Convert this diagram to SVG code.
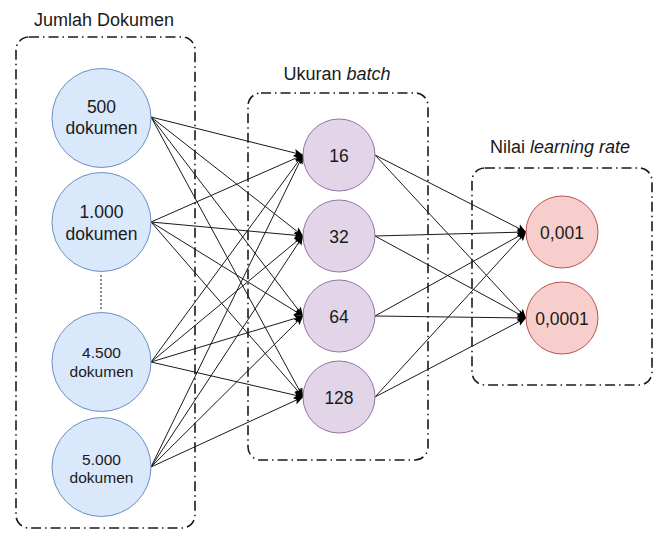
<svg xmlns="http://www.w3.org/2000/svg" width="655" height="533" viewBox="0 0 655 533">
<style>
text{font-family:"Liberation Sans",Arial,sans-serif;fill:#1a1a1a;text-anchor:middle}
.title{font-size:18px}
.big{font-size:17.5px}
.small{font-size:15.5px}
.box{fill:none;stroke:#1a1a1a;stroke-width:1.6;stroke-dasharray:10 4 1.5 4}
.blue{fill:#dae8fc;stroke:#6c8ebf;stroke-width:1}
.purple{fill:#e1d5e7;stroke:#9673a6;stroke-width:1}
.red{fill:#f8cecc;stroke:#b85450;stroke-width:1}
.edge{stroke:#1a1a1a;stroke-width:1;fill:none;marker-end:url(#arrow)}
</style>
<defs>
<marker id="arrow" markerUnits="userSpaceOnUse" markerWidth="10" markerHeight="10" viewBox="0 0 10 10" refX="9" refY="5" orient="auto">
<path d="M0,1 L9,5 L0,9 L2,5 Z" fill="#000"/>
</marker>
</defs>
<rect fill="#fff" width="655" height="533"/>
<g id="group-jumlah">
<rect class="box" x="16" y="37" width="179" height="491" rx="13"/>
<text class="title" x="104" y="26">Jumlah Dokumen</text>
</g>
<g id="group-batch">
<rect class="box" x="248" y="93" width="180" height="367" rx="13"/>
<text class="title" x="337" y="80">Ukuran <tspan font-style="italic">batch</tspan></text>
</g>
<g id="group-lr">
<rect class="box" x="472" y="168" width="180" height="217" rx="13"/>
<text class="title" x="560" y="153">Nilai <tspan font-style="italic">learning rate</tspan></text>
</g>
<g id="connectors">
<line class="edge" x1="151" y1="117" x2="303" y2="155"/>
<line class="edge" x1="151" y1="117" x2="303" y2="236"/>
<line class="edge" x1="151" y1="117" x2="303" y2="316"/>
<line class="edge" x1="151" y1="117" x2="303" y2="397"/>
<line class="edge" x1="151" y1="222" x2="303" y2="155"/>
<line class="edge" x1="151" y1="222" x2="303" y2="236"/>
<line class="edge" x1="151" y1="222" x2="303" y2="316"/>
<line class="edge" x1="151" y1="222" x2="303" y2="397"/>
<line class="edge" x1="151" y1="362" x2="303" y2="155"/>
<line class="edge" x1="151" y1="362" x2="303" y2="236"/>
<line class="edge" x1="151" y1="362" x2="303" y2="316"/>
<line class="edge" x1="151" y1="362" x2="303" y2="397"/>
<line class="edge" x1="151" y1="467" x2="303" y2="155"/>
<line class="edge" x1="151" y1="467" x2="303" y2="236"/>
<line class="edge" x1="151" y1="467" x2="303" y2="316"/>
<line class="edge" x1="151" y1="467" x2="303" y2="397"/>
<line class="edge" x1="375" y1="155" x2="526" y2="232"/>
<line class="edge" x1="375" y1="155" x2="526" y2="318"/>
<line class="edge" x1="375" y1="236" x2="526" y2="232"/>
<line class="edge" x1="375" y1="236" x2="526" y2="318"/>
<line class="edge" x1="375" y1="316" x2="526" y2="232"/>
<line class="edge" x1="375" y1="316" x2="526" y2="318"/>
<line class="edge" x1="375" y1="397" x2="526" y2="232"/>
<line class="edge" x1="375" y1="397" x2="526" y2="318"/>
<line x1="101" y1="275" x2="101" y2="309" stroke="#1a1a1a" stroke-width="1" stroke-dasharray="2 2"/>
</g>
<g id="n500">
<circle class="blue" cx="101.5" cy="118" r="49.5"/>
<text class="big" x="101.5" y="113">500</text>
<text class="big" x="101.5" y="134">dokumen</text>
</g>
<g id="n1000">
<circle class="blue" cx="101.5" cy="222" r="49.5"/>
<text class="big" x="101.5" y="218">1.000</text>
<text class="big" x="101.5" y="240">dokumen</text>
</g>
<g id="n4500">
<circle class="blue" cx="101.5" cy="362" r="49.5"/>
<text class="small" x="101.5" y="358">4.500</text>
<text class="small" x="101.5" y="377">dokumen</text>
</g>
<g id="n5000">
<circle class="blue" cx="101.5" cy="467" r="49.5"/>
<text class="small" x="101.5" y="465">5.000</text>
<text class="small" x="101.5" y="483">dokumen</text>
</g>
<g id="b16">
<circle class="purple" cx="339" cy="155" r="36"/>
<text class="big" x="339" y="161.5">16</text>
</g>
<g id="b32">
<circle class="purple" cx="339" cy="236" r="36"/>
<text class="big" x="339" y="242.5">32</text>
</g>
<g id="b64">
<circle class="purple" cx="339" cy="316" r="36"/>
<text class="big" x="339" y="322.5">64</text>
</g>
<g id="b128">
<circle class="purple" cx="339" cy="397" r="36"/>
<text class="big" x="339" y="403.5">128</text>
</g>
<g id="lr001">
<circle class="red" cx="562" cy="232" r="36"/>
<text class="big" x="562" y="238.5">0,001</text>
</g>
<g id="lr0001">
<circle class="red" cx="562" cy="318" r="36"/>
<text class="big" x="562" y="324.5">0,0001</text>
</g>
</svg>
